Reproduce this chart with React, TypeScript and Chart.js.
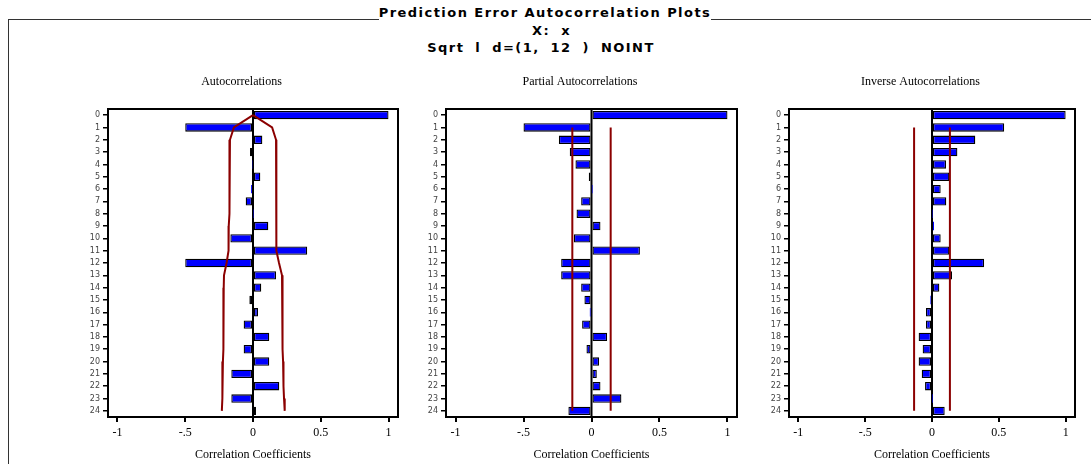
import React, { useEffect, useRef } from 'react';
import { Chart, registerables } from 'chart.js';

Chart.register(...registerables);

// ---- data ----
const lags = ['0', '1', '2', '3', '4', '5', '6', '7', '8', '9', '10', '11', '12', '13', '14', '15', '16', '17', '18', '19', '20', '21', '22', '23', '24'];

const xTickValues = [-1, -0.5, 0, 0.5, 1];
const xTickLabels = ['-1', '-.5', '0', '0.5', '1'];

const acfValues = [1.0, -0.5, 0.069, -0.022, -0.005, 0.054, -0.014, -0.054, 0.004, 0.113, -0.167, 0.4, -0.5, 0.17, 0.061, -0.027, 0.037, -0.069, 0.12, -0.069, 0.12, -0.16, 0.194, -0.16, 0.022];
const acfUpper = [0, 0.141, 0.17, 0.17, 0.171, 0.171, 0.171, 0.172, 0.172, 0.173, 0.175, 0.177, 0.192, 0.214, 0.216, 0.217, 0.218, 0.218, 0.219, 0.22, 0.222, 0.224, 0.226, 0.229, 0.234];
const acfLower = [0, -0.141, -0.17, -0.171, -0.172, -0.173, -0.174, -0.175, -0.177, -0.179, -0.18, -0.181, -0.195, -0.214, -0.216, -0.217, -0.218, -0.218, -0.219, -0.22, -0.222, -0.224, -0.226, -0.228, -0.23];

const pacfValues = [1.0, -0.5, -0.24, -0.16, -0.118, -0.02, 0.003, -0.076, -0.11, 0.066, -0.13, 0.356, -0.223, -0.223, -0.076, -0.052, -0.012, -0.069, 0.115, -0.037, 0.056, 0.039, 0.066, 0.22, -0.17];
const pacfBand = 0.141;

const iacfValues = [1.0, 0.54, 0.324, 0.19, 0.105, 0.13, 0.065, 0.107, 0.004, 0.015, 0.065, 0.13, 0.39, 0.15, 0.055, -0.012, -0.045, -0.045, -0.1, -0.07, -0.1, -0.077, -0.052, 0.003, 0.095];
const iacfBand = 0.134;

const bandStartLag = '1';
const bandEndLag = '24';

// ---- styling ----
const BAR_BLUE = '#0000FF';
const BAND_RED = '#8B0000';
const SERIF = '"Liberation Serif", "Times New Roman", serif';

const framePlugin = {
  id: 'frame',
  beforeDatasetsDraw(chart: any) {
    const { ctx, chartArea } = chart;
    const zx = chart.scales.x.getPixelForValue(0);
    ctx.save();
    ctx.strokeStyle = '#000';
    ctx.lineWidth = 2;
    ctx.beginPath();
    ctx.moveTo(zx, chartArea.top);
    ctx.lineTo(zx, chartArea.bottom);
    ctx.stroke();
    ctx.restore();
  },
  afterDraw(chart: any) {
    const { ctx, chartArea } = chart;
    ctx.save();
    ctx.strokeStyle = '#000';
    ctx.lineWidth = 2;
    ctx.strokeRect(chartArea.left, chartArea.top, chartArea.right - chartArea.left, chartArea.bottom - chartArea.top);
    ctx.restore();
  },
};

type BandSpec = { upper: any[]; lower: any[] };

function Panel(props: { left: number; width: number; title: string; values: number[]; bands: BandSpec }) {
  const ref = useRef<HTMLCanvasElement | null>(null);
  useEffect(() => {
    if (!ref.current) return;
    const lineDs = (data: any[]) => ({
      type: 'line',
      data,
      indexAxis: 'y',
      borderColor: BAND_RED,
      borderWidth: 2,
      pointRadius: 0,
      fill: false,
      tension: 0,
      order: 0,
    });
    const chart = new Chart(ref.current, {
      type: 'bar',
      data: {
        labels: lags,
        datasets: [
          lineDs(props.bands.upper) as any,
          lineDs(props.bands.lower) as any,
          {
            type: 'bar',
            data: props.values,
            backgroundColor: BAR_BLUE,
            borderColor: '#000',
            borderWidth: (c: any) => (Math.abs(c.raw) < 0.018 ? 0 : 1.3),
            borderSkipped: false,
            categoryPercentage: 1,
            barPercentage: 0.68,
            order: 1,
          } as any,
        ],
      },
      options: {
        indexAxis: 'y',
        animation: false,
        responsive: false,
        devicePixelRatio: 1,
        layout: { padding: { left: 0, right: 4, top: 0, bottom: 0 } },
        plugins: {
          legend: { display: false },
          tooltip: { enabled: false },
          title: {
            display: true,
            text: props.title,
            color: '#000',
            font: { family: SERIF, size: 12, weight: 'normal' },
            padding: { top: 4.8, bottom: 19.8 },
          },
        },
        scales: {
          x: {
            type: 'linear',
            min: -1.07,
            max: 1.07,
            afterBuildTicks: (s: any) => {
              s.ticks = xTickValues.map((v) => ({ value: v }));
            },
            afterFit: (s: any) => {
              s.height = 47;
            },
            ticks: {
              autoSkip: false,
              maxRotation: 0,
              color: '#000',
              padding: 4,
              font: { family: SERIF, size: 12 },
              callback: (_v: any, i: number) => xTickLabels[i],
            },
            grid: { drawOnChartArea: false, drawTicks: true, tickLength: 5, color: '#000', lineWidth: 2 },
            border: { display: false },
            title: {
              display: true,
              text: 'Correlation Coefficients',
              color: '#000',
              font: { family: SERIF, size: 12 },
              padding: { top: 0, bottom: 2 },
            },
          },
          y: {
            type: 'category',
            offset: true,
            afterFit: (s: any) => {
              s.width = 23;
            },
            ticks: {
              autoSkip: false,
              color: '#444',
              padding: 3,
              font: { family: '"DejaVu Sans", sans-serif', size: 8 },
            },
            grid: { drawOnChartArea: false, drawTicks: true, tickLength: 5, color: '#000', lineWidth: 1.5, offset: false },
            border: { display: false },
          },
        },
      } as any,
      plugins: [framePlugin],
    });
    return () => chart.destroy();
  }, []);
  return (
    <canvas
      ref={ref}
      width={props.width}
      height={394}
      style={{ position: 'absolute', left: props.left, top: 70, width: props.width, height: 394 }}
    />
  );
}

const headerFont = 'bold 13px "DejaVu Sans", sans-serif';

export default function App() {
  const pacfBands: BandSpec = {
    upper: [{ x: pacfBand, y: bandStartLag }, { x: pacfBand, y: bandEndLag }],
    lower: [{ x: -pacfBand, y: bandStartLag }, { x: -pacfBand, y: bandEndLag }],
  };
  const iacfBands: BandSpec = {
    upper: [{ x: iacfBand, y: bandStartLag }, { x: iacfBand, y: bandEndLag }],
    lower: [{ x: -iacfBand, y: bandStartLag }, { x: -iacfBand, y: bandEndLag }],
  };
  return (
    <div style={{ position: 'fixed', left: 0, top: 0, width: 1091, height: 464, background: '#fff', overflow: 'hidden' }}>
      <div style={{ position: 'absolute', left: 8, top: 5, width: 1074, height: 15, display: 'flex', alignItems: 'flex-end' }}>
        <div style={{ flex: 1, borderBottom: '1px solid #333' }} />
        <div style={{ font: headerFont, letterSpacing: '1.45px', lineHeight: '15px', whiteSpace: 'pre', color: '#000' }}>
          Prediction Error Autocorrelation Plots
        </div>
        <div style={{ flex: 1, borderBottom: '1px solid #333' }} />
      </div>
      <div style={{ position: 'absolute', left: 1078, top: 19, width: 13, height: 1, background: '#333' }} />
      <div style={{ position: 'absolute', left: 8, top: 19, width: 1, height: 445, background: '#333' }} />
      <div style={{ position: 'absolute', left: 6, width: 1091, top: 23, lineHeight: '15px', textAlign: 'center', font: headerFont, letterSpacing: '1.45px', wordSpacing: '5px', whiteSpace: 'pre' }}>
        X: x
      </div>
      <div style={{ position: 'absolute', left: 0, width: 1082, top: 40, lineHeight: '15px', textAlign: 'center', font: headerFont, letterSpacing: '1.45px', wordSpacing: '5px', whiteSpace: 'pre' }}>
        Sqrt l d=(1, 12 ) NOINT
      </div>
      <Panel left={85} width={317} title="Autocorrelations" values={acfValues} bands={{ upper: acfUpper, lower: acfLower }} />
      <Panel left={423} width={318} title="Partial Autocorrelations" values={pacfValues} bands={pacfBands} />
      <Panel left={766} width={313} title="Inverse Autocorrelations" values={iacfValues} bands={iacfBands} />
    </div>
  );
}
